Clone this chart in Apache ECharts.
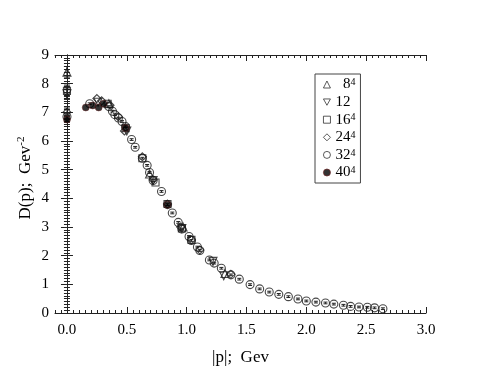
<!DOCTYPE html>
<html>
<head>
<meta charset="utf-8">
<script src="https://cdn.jsdelivr.net/npm/echarts@6/dist/echarts.min.js"></script>
<style>
    html, body { margin: 0; padding: 0; background: #fff; }
    #chart { width: 480px; height: 371px; }
</style>
</head>
<body>
<div id="chart"></div>
<script>
    // lattice sizes shown in the legend
    const sizeLabels = ['8', '12', '16', '24', '32', '40'];
    const sizeSups = ['4', '', '4', '4', '4', '4'];

    // momentum |p| (GeV) and D(p) (GeV^-2) per lattice
    const p8 = [0, 0.35, 0.69, 0.97, 1.32];
    const d8 = [8.4, 7.3, 4.85, 3.0, 1.38];
    const p12 = [0, 0.26, 0.5, 0.72, 0.96, 1.22, 1.31];
    const d12 = [7.65, 7.35, 6.35, 4.62, 2.95, 1.8, 1.3];
    const p16 = [0, 0.34, 0.49, 0.63, 0.74, 0.84, 0.96, 1.04];
    const d16 = [7.75, 7.3, 6.45, 5.4, 4.55, 3.8, 2.95, 2.55];
    const p24 = [0, 0.25, 0.29, 0.36, 0.43, 0.48, 0.63, 0.72, 0.84, 0.95, 1.04, 1.11, 1.37];
    const d24 = [7.0, 7.48, 7.4, 7.25, 6.85, 6.35, 5.45, 4.65, 3.8, 3.0, 2.55, 2.2, 1.35];
    const p32 = [0, 0.19, 0.35, 0.38, 0.40, 0.43, 0.46, 0.49, 0.54, 0.57, 0.63, 0.67, 0.69, 0.72,
        0.79, 0.84, 0.88, 0.93, 0.96, 1.02, 1.04, 1.09, 1.11, 1.19, 1.23, 1.29, 1.37, 1.44, 1.53,
        1.61, 1.69, 1.77, 1.85, 1.93, 2.0, 2.08, 2.16, 2.23, 2.31, 2.37, 2.44, 2.51, 2.57, 2.64];
    const d32 = [6.85, 7.3, 7.2, 7.04, 6.92, 6.8, 6.68, 6.5, 6.05, 5.78, 5.4, 5.15, 4.9, 4.62,
        4.24, 3.78, 3.49, 3.16, 2.93, 2.67, 2.53, 2.3, 2.18, 1.85, 1.74, 1.56, 1.33, 1.18, 0.99,
        0.84, 0.73, 0.65, 0.57, 0.49, 0.42, 0.38, 0.35, 0.31, 0.27, 0.23, 0.21, 0.2, 0.18, 0.15];
    const p40 = [0, 0.157, 0.215, 0.265, 0.306, 0.49, 0.84];
    const d40 = [6.75, 7.17, 7.24, 7.17, 7.3, 6.45, 3.78];

    // error bars at |p| = 0 for each lattice, and the small ones on the 32^4 points
    const err0 = [0.2, 0.2, 0.2, 0.15, 0.1, 0.1];
    const err32 = 0.03;

    const xTicks = [0, 0.5, 1, 1.5, 2, 2.5, 3];

    const font = 'Liberation Serif';
    const ink = '#222';
    const downTri = 'path://M0,0L10,0L5,9Z';

    const allP = [p8, p12, p16, p24, p32, p40];
    const allD = [d8, d12, d16, d24, d32, d40];
    const symbols = ['triangle', downTri, 'rect', 'diamond', 'circle', 'circle'];
    const sizes = [8, 8, 7, 8, 8, 7];

    const names = sizeLabels.map((s, i) => s + (sizeSups[i] ? '^' + sizeSups[i] : ''));

    const series = allP.map((ps, i) => ({
        name: names[i],
        type: 'scatter',
        symbol: symbols[i],
        symbolSize: sizes[i],
        data: ps.map((p, k) => [p, allD[i][k]]),
        itemStyle: i === 5
            ? { color: '#000', borderColor: '#6b2424', borderWidth: 0.6 }
            : { color: 'rgba(255,255,255,0)', borderColor: '#1a1a1a', borderWidth: 1.1 },
        z: 3 + i
    }));

    // error bars (drawn through the axes)
    const errData = allP.map((ps, i) => [ps[0], allD[i][0] - err0[i], allD[i][0] + err0[i], 3]);
    p32.slice(1).forEach((p, k) => errData.push([p, d32[k + 1] - err32, d32[k + 1] + err32, 2]));
    series.push({
        type: 'custom',
        data: errData,
        renderItem(params, api) {
            const a = api.coord([api.value(0), api.value(1)]);
            const b = api.coord([api.value(0), api.value(2)]);
            const w = api.value(3);
            const st = { stroke: '#222', lineWidth: 1 };
            return {
                type: 'group',
                children: [
                    { type: 'line', shape: { x1: a[0], y1: a[1], x2: b[0], y2: b[1] }, style: st },
                    { type: 'line', shape: { x1: a[0] - w, y1: a[1], x2: a[0] + w, y2: a[1] }, style: st },
                    { type: 'line', shape: { x1: b[0] - w, y1: b[1], x2: b[0] + w, y2: b[1] }, style: st }
                ]
            };
        },
        z: 2
    });

    const lineStyle = { color: ink, width: 1 };
    const baseX = {
        type: 'value', min: -0.1, max: 3,
        axisLine: { show: true, lineStyle },
        splitLine: { show: false }
    };
    const majorX = (pos, labels) => Object.assign({}, baseX, {
        position: pos,
        axisTick: { inside: true, length: 6, customValues: xTicks, lineStyle },
        axisLabel: labels
            ? { customValues: xTicks, formatter: v => v.toFixed(1), margin: 10, fontSize: 15, color: '#000', fontFamily: font }
            : { show: false }
    });
    const minorX = pos => Object.assign({}, baseX, {
        position: pos, interval: 0.05,
        axisLine: { show: false },
        axisTick: { inside: true, length: 3, lineStyle },
        axisLabel: { show: false }
    });

    const xBottom = majorX('bottom', true);
    xBottom.name = '|p|;  Gev';
    xBottom.nameLocation = 'middle';
    xBottom.nameGap = 36;
    xBottom.nameTextStyle = { fontSize: 17, color: '#000', fontFamily: font };

    const yAxis = ['left', 'right'].map(pos => ({
        type: 'value', position: pos, min: 0, max: 9, interval: 1,
        axisLine: { show: true, lineStyle },
        axisTick: { inside: true, length: 6, lineStyle },
        minorTick: { show: true, splitNumber: 10, length: 3, lineStyle },
        splitLine: { show: false },
        axisLabel: pos === 'left'
            ? { margin: 6, fontSize: 15, color: '#000', fontFamily: font }
            : { show: false }
    }));
    yAxis[0].name = '{a|D(p);  Gev}{s|-2}';
    yAxis[0].nameLocation = 'middle';
    yAxis[0].nameGap = 19;
    yAxis[0].nameMoveOverlap = false;
    yAxis[0].nameRotate = 90;
    yAxis[0].nameTextStyle = {
        padding: [0, 0, 0, 12],
        rich: {
            a: { fontSize: 17, color: '#000', fontFamily: font, lineHeight: 20 },
            s: { fontSize: 11, color: '#000', fontFamily: font, verticalAlign: 'top', lineHeight: 20 }
        }
    };

    const chart = echarts.init(document.getElementById('chart'));
    chart.setOption({
        animation: false,
        grid: { left: 55, right: 54, top: 55, bottom: 58 },
        xAxis: [xBottom, minorX('bottom'), majorX('top', false), minorX('top')],
        yAxis: yAxis,
        legend: {
            orient: 'vertical',
            left: 315, top: 74,
            padding: [3, 5, 3, 8],
            itemWidth: 7, itemHeight: 7, itemGap: 2.6,
            borderColor: '#444', borderWidth: 1, borderRadius: 0,
            itemStyle: { borderWidth: 0.9 },
            data: names.map((n, i) => ({ name: n, icon: symbols[i] })),
            formatter: name => {
                const i = names.indexOf(name);
                const t = sizeLabels[i].length === 1 ? 'c' : 'b';
                return '{' + t + '|' + sizeLabels[i] + '}' + (sizeSups[i] ? '{s|' + sizeSups[i] + '}' : '');
            },
            textStyle: {
                rich: {
                    b: { fontSize: 15, color: '#000', fontFamily: font, lineHeight: 14 },
                    c: { fontSize: 15, color: '#000', fontFamily: font, lineHeight: 14, padding: [0, 0, 0, 7.5] },
                    s: { fontSize: 10, color: '#000', fontFamily: font, verticalAlign: 'top', lineHeight: 14 }
                }
            }
        },
        series: series
    });
</script>
</body>
</html>
